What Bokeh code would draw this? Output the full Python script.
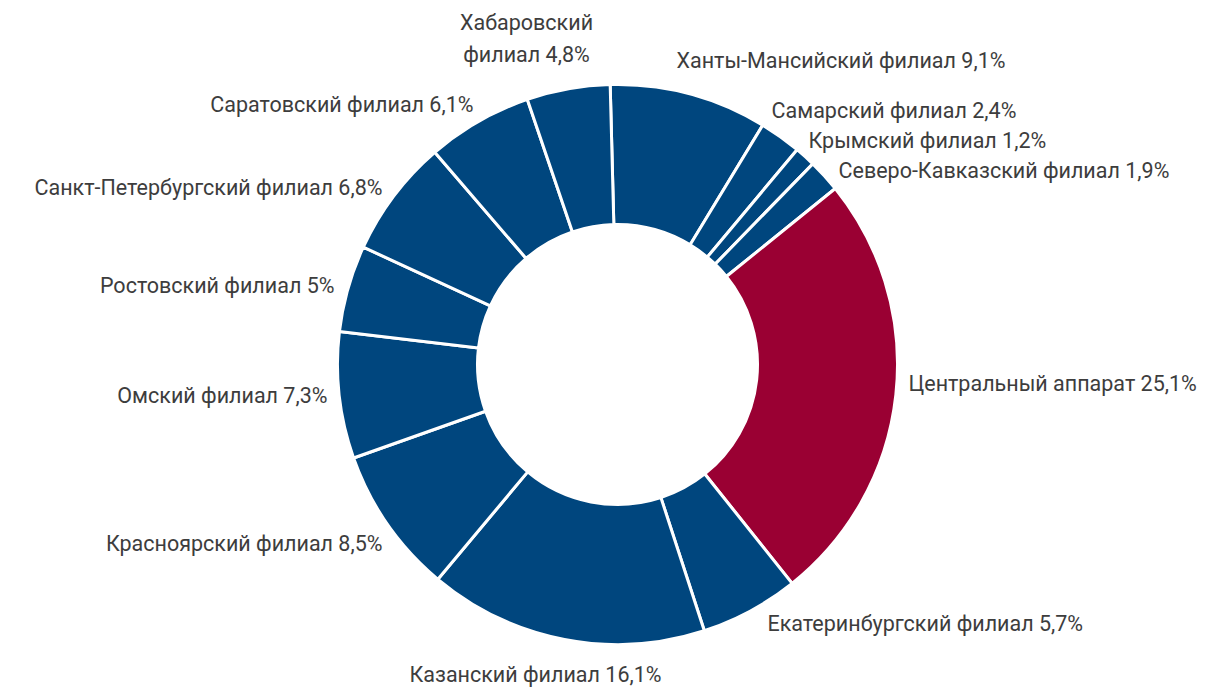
import math
from bokeh.plotting import figure
from bokeh.models import ColumnDataSource, Range1d
from bokeh.core.properties import value
from bokeh.embed import file_html
from bokeh.resources import INLINE

# ---- data (clockwise from 12 o'clock) ----
names = [
    "Ханты-Мансийский филиал", "Самарский филиал", "Крымский филиал",
    "Северо-Кавказский филиал", "Центральный аппарат", "Екатеринбургский филиал",
    "Казанский филиал", "Красноярский филиал", "Омский филиал",
    "Ростовский филиал", "Санкт-Петербургский филиал", "Саратовский филиал",
    "Хабаровский филиал",
]
shares = [9.1, 2.4, 1.2, 1.9, 25.1, 5.7, 16.1, 8.5, 7.3, 5.0, 6.8, 6.1, 4.8]

BLUE = "#00467E"
RED = "#9A0033"
colors = [RED if n == "Центральный аппарат" else BLUE for n in names]

# ---- layout (screen-like coordinates: y_data = H - y_screen) ----
W, H = 1211, 687
CX, CY = 617, H - 364
R_OUT, R_IN = 280, 140
ROT = math.radians(1.5)  # small counter-clockwise rotation of the start

# label anchor positions (screen px) and alignment
label_pos = [
    (676, 60, "left"), (771, 110, "left"), (808, 140, "left"),
    (838, 170, "left"), (908, 383, "left"), (767, 623, "left"),
    (535, 674, "center"), (382, 543, "right"), (327, 395, "right"),
    (334, 285, "right"), (382, 187, "right"), (473, 104, "right"),
    (526, 38, "center"),
]

total = sum(shares)
starts, ends = [], []
cum = 0.0
for s in shares:
    a0 = math.pi / 2 + ROT - 2 * math.pi * cum / total
    cum += s
    a1 = math.pi / 2 + ROT - 2 * math.pi * cum / total
    starts.append(a0)
    ends.append(a1)

def fmt(v):
    t = ("%g" % v).replace(".", ",")
    return t + "%"

labels = []
for n, v in zip(names, shares):
    if n == "Хабаровский филиал":
        labels.append("Хабаровский\nфилиал " + fmt(v))
    else:
        labels.append(n + " " + fmt(v))

wsrc = ColumnDataSource(dict(start=starts, end=ends, color=colors))
lsrc = ColumnDataSource(dict(
    x=[p[0] for p in label_pos],
    y=[H - p[1] for p in label_pos],
    align=[p[2] for p in label_pos],
    text=labels,
))

p = figure(width=W, height=H, output_backend="svg", toolbar_location=None,
           x_range=Range1d(0, W), y_range=Range1d(0, H),
           min_border=0, outline_line_color=None)
p.axis.visible = False
p.grid.visible = False
p.background_fill_color = "white"

p.annular_wedge(x=CX, y=CY, inner_radius=R_IN, outer_radius=R_OUT,
                start_angle="start", end_angle="end", direction="clock",
                fill_color="color", line_color="white", line_width=3,
                source=wsrc)

p.text(x="x", y="y", text="text", text_align="align", text_baseline="middle",
       text_font=value("Roboto"), text_font_size="21.5px", text_color="#3d3d3d",
       text_line_height=1.3, source=lsrc)

open("out.html", "w").write(file_html(p, INLINE))
